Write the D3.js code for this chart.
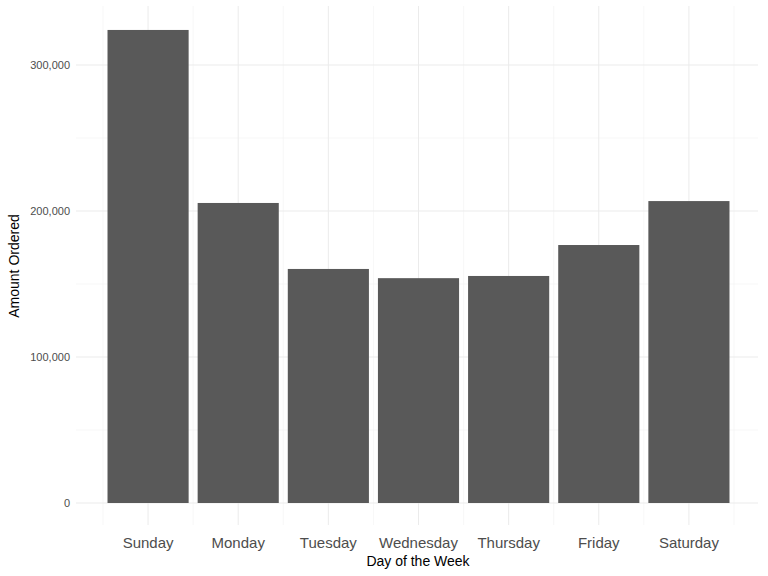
<!DOCTYPE html>
<html><head><meta charset="utf-8">
<script src="https://cdn.jsdelivr.net/npm/d3@7"></script>
<style>body{margin:0;background:#fff}text{font-family:"Liberation Sans",Arial,sans-serif}</style>
</head><body><svg id="chart" width="768" height="576"></svg>
<script>
const days = ['Sunday', 'Monday', 'Tuesday', 'Wednesday', 'Thursday', 'Friday', 'Saturday'];
const amounts = [324000, 205500, 160300, 154000, 155500, 176700, 206800];
const yTicks = [0, 100000, 200000, 300000];

const panel = { left: 76, right: 758, top: 6, bottom: 525 };
const svg = d3.select('#chart');

const x = d3.scaleBand().domain(days).range([103, 734]).paddingInner(0.1).paddingOuter(0.05);
const y = d3.scaleLinear().domain([0, 300000]).range([503, 65]);

// minor gridlines
const g = svg.append('g');
const minorY = d3.range(50000, 350001, 100000).filter(v => y(v) > panel.top);
g.selectAll('.my').data(minorY).join('line')
  .attr('x1', panel.left).attr('x2', panel.right)
  .attr('y1', d => y(d)).attr('y2', d => y(d))
  .attr('stroke', '#f2f2f2').attr('stroke-width', 0.6);
const bounds = days.map(d => x(d) - x.step() * x.paddingInner() / 2).concat([x(days[6]) + x.bandwidth() + x.step() * 0.05]);
g.selectAll('.mx').data(bounds).join('line')
  .attr('x1', d => d).attr('x2', d => d)
  .attr('y1', panel.top).attr('y2', panel.bottom)
  .attr('stroke', '#f2f2f2').attr('stroke-width', 0.6);
// major gridlines
g.selectAll('.gy').data(yTicks).join('line')
  .attr('x1', panel.left).attr('x2', panel.right)
  .attr('y1', d => y(d)).attr('y2', d => y(d))
  .attr('stroke', '#ebebeb').attr('stroke-width', 1);
g.selectAll('.gx').data(days).join('line')
  .attr('x1', d => x(d) + x.bandwidth() / 2).attr('x2', d => x(d) + x.bandwidth() / 2)
  .attr('y1', panel.top).attr('y2', panel.bottom)
  .attr('stroke', '#ebebeb').attr('stroke-width', 1);

// bars
svg.selectAll('.bar').data(days).join('rect')
  .attr('x', d => x(d)).attr('width', x.bandwidth())
  .attr('y', (d, i) => y(amounts[i])).attr('height', (d, i) => y(0) - y(amounts[i]))
  .attr('fill', '#595959');

// tick labels
svg.selectAll('.yl').data(yTicks).join('text')
  .attr('x', 70).attr('y', d => y(d)).attr('dy', '0.35em')
  .attr('text-anchor', 'end').attr('font-size', 11).attr('fill', '#4d4d4d')
  .text(d => d3.format(',')(d));
svg.selectAll('.xl').data(days).join('text')
  .attr('x', d => x(d) + x.bandwidth() / 2).attr('y', 548)
  .attr('text-anchor', 'middle').attr('font-size', 15).attr('fill', '#4d4d4d')
  .text(d => d);

// axis titles
svg.append('text').attr('x', 418).attr('y', 566).attr('text-anchor', 'middle')
  .attr('font-size', 14).attr('fill', '#000').text('Day of the Week');
svg.append('text').attr('transform', 'translate(19,266) rotate(-90)').attr('text-anchor', 'middle')
  .attr('font-size', 14).attr('fill', '#000').text('Amount Ordered');
</script></body></html>
